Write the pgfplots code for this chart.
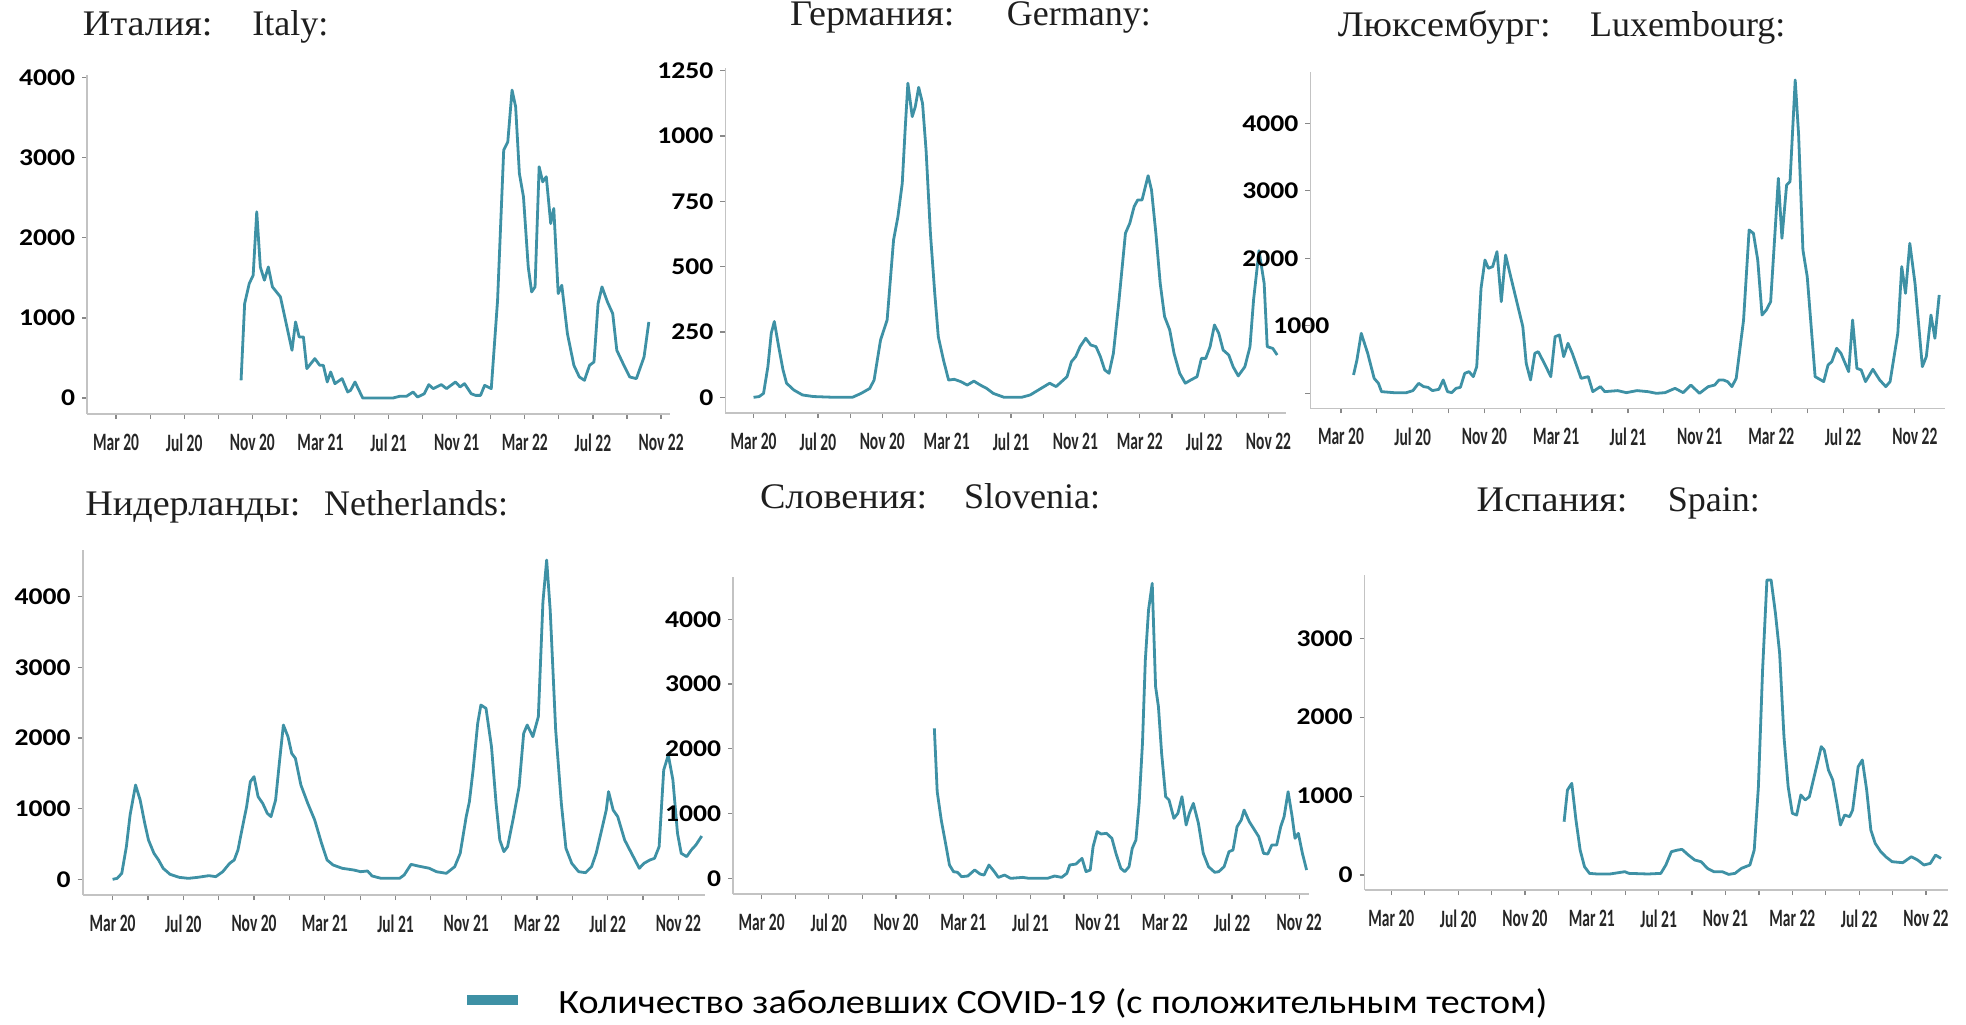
\documentclass[border=0pt]{standalone}
\usepackage{fontspec}
\setmainfont{Liberation Serif}
\newfontfamily\xtf[FakeStretch=0.62]{Carlito}
\newfontfamily\ytf[FakeStretch=1.15]{Carlito}
\newfontfamily\lgf[FakeStretch=1.12]{Carlito}
\newfontfamily\cyrt[FakeStretch=1.06]{Liberation Serif}
\usepackage{pgfplots}
\pgfplotsset{compat=1.18}
\definecolor{covid}{RGB}{62,145,165}
\definecolor{axgray}{RGB}{195,195,195}
\definecolor{ttl}{RGB}{30,30,30}
\pgfplotsset{cv/.style={scale only axis, axis x line=bottom, axis y line=left,
  axis line style={axgray, line width=0.8pt, -},
  tick style={axgray!70!black, line width=0.6pt}, tick align=outside,
  major tick length=2.5pt, minor tick length=2.5pt,
  xtick={0,4,...,32}, minor xtick={2,6,...,30},
  xticklabels={Mar 20,Jul 20,Nov 20,Mar 21,Jul 21,Nov 21,Mar 22,Jul 22,Nov 22},
  xticklabel style={font=\xtf\bfseries\fontsize{12.5}{14}\selectfont, text=black!85, yshift=-4pt},
  yticklabel style={font=\ytf\bfseries\fontsize{12}{14}\selectfont},
  scaled y ticks=false,
  cycle list={covid\\},
  every axis plot/.append style={line width=1.4pt, mark=none, line join=round}}}
\newcommand\ttlfont{\color{ttl}\fontsize{18}{20}\selectfont}
\begin{document}
\begin{tikzpicture}
\useasboundingbox (0,0) rectangle (983pt,-512pt);
% Italy
\begin{axis}[cv, at={(43.55pt,-207pt)}, anchor=south west, width=291.25pt, height=169.5pt,
  xmin=-1.70, xmax=32.5, ymin=-200, ymax=4034,
  ytick={0,1000,2000,3000,4000}, yticklabels={0,1000,2000,3000,4000}]
\addplot coordinates {(7.34,221)(7.55,1179)(7.82,1429)(8.05,1533)(8.26,2325)(8.47,1637)(8.71,1471)(8.94,1637)(9.18,1388)(9.65,1263)(10.33,596)(10.54,950)(10.75,763)(11.0,763)(11.2,367)(11.67,492)(11.96,408)(12.17,408)(12.4,200)(12.6,325)(12.85,179)(13.27,242)(13.6,75)(13.77,96)(14.03,200)(14.48,0)(14.95,0)(15.7,0)(16.26,0)(16.65,21)(17.05,21)(17.44,75)(17.7,12)(18.1,54)(18.36,167)(18.62,117)(19.1,167)(19.4,117)(19.93,200)(20.2,138)(20.46,179)(20.85,54)(21.1,33)(21.4,33)(21.64,158)(22.03,117)(22.4,1221)(22.76,3096)(23.0,3200)(23.25,3846)(23.46,3638)(23.68,2804)(23.92,2513)(24.2,1637)(24.4,1325)(24.6,1388)(24.84,2888)(25.05,2700)(25.26,2763)(25.52,2179)(25.7,2367)(25.96,1304)(26.17,1408)(26.5,804)(26.88,408)(27.2,263)(27.5,221)(27.8,408)(28.06,450)(28.3,1179)(28.53,1388)(28.85,1200)(29.16,1054)(29.4,596)(29.77,429)(30.16,263)(30.55,242)(31.0,513)(31.28,950)};
\end{axis}
% Germany
\begin{axis}[cv, at={(362.7pt,-206.5pt)}, anchor=south west, width=280.4pt, height=172.5pt,
  xmin=-1.75, xmax=33.1, ymin=-60, ymax=1260,
  ytick={0,250,500,750,1000,1250}, yticklabels={0,250,500,750,1000,1250}]
\addplot coordinates {(0,0)(0.35,3)(0.62,15)(0.89,117)(1.1,245)(1.29,290)(1.56,194)(1.83,105)(2.05,54)(2.5,28)(3.04,9)(3.72,3)(5.06,0)(6.14,0)(6.68,15)(7.22,34)(7.49,66)(7.89,219)(8.3,296)(8.7,602)(8.97,691)(9.24,819)(9.43,1036)(9.59,1202)(9.86,1074)(10.05,1112)(10.26,1186)(10.5,1125)(10.72,946)(10.99,628)(11.26,398)(11.48,232)(11.8,143)(12.12,66)(12.47,69)(12.88,60)(13.28,47)(13.69,62)(14.09,47)(14.49,34)(14.9,15)(15.57,0)(16.65,0)(17.19,9)(17.86,34)(18.4,54)(18.8,41)(19.48,79)(19.75,136)(20.02,156)(20.29,194)(20.64,226)(20.96,200)(21.28,194)(21.55,156)(21.82,105)(22.09,92)(22.36,168)(22.71,372)(23.11,628)(23.38,666)(23.65,730)(23.87,755)(24.14,755)(24.52,848)(24.73,793)(25.0,628)(25.27,436)(25.54,309)(25.86,258)(26.13,168)(26.48,92)(26.83,54)(27.16,66)(27.56,79)(27.83,149)(28.1,149)(28.37,194)(28.64,277)(28.91,245)(29.18,181)(29.53,162)(29.8,117)(30.12,82)(30.53,117)(30.85,194)(31.07,372)(31.41,561)(31.73,436)(31.92,194)(32.27,187)(32.54,162)};
\end{axis}
% Luxembourg
\begin{axis}[cv, at={(655.15pt,-204.15pt)}, anchor=south west, width=317.5pt, height=168.3pt,
  xmin=-1.71, xmax=33.7, ymin=-222, ymax=4764,
  ytick={0,2000,3000,4000}, yticklabels={,2000,3000,4000},
  extra y ticks={1000}, extra y tick labels={1000},
  extra y tick style={yticklabel style={xshift=15.5pt}}]
\addplot coordinates {(0.7,272)(0.89,494)(1.13,889)(1.49,593)(1.85,222)(2.09,148)(2.26,25)(2.93,10)(3.65,10)(4.01,40)(4.33,148)(4.61,99)(4.85,89)(5.1,40)(5.46,59)(5.7,198)(5.94,25)(6.18,10)(6.42,74)(6.66,89)(6.9,296)(7.14,321)(7.38,247)(7.57,395)(7.81,1556)(8.03,1975)(8.22,1852)(8.46,1877)(8.7,2099)(8.94,1358)(9.18,2049)(9.42,1778)(9.78,1383)(10.14,988)(10.33,444)(10.57,198)(10.81,593)(11.0,617)(11.34,444)(11.7,247)(11.94,840)(12.18,864)(12.42,543)(12.66,741)(12.9,593)(13.39,222)(13.79,247)(14.04,25)(14.47,99)(14.71,25)(15.43,40)(15.91,10)(16.51,40)(17.11,25)(17.59,0)(18.07,10)(18.63,74)(19.08,10)(19.51,123)(19.99,0)(20.48,99)(20.84,123)(21.08,198)(21.32,198)(21.56,173)(21.8,99)(22.04,222)(22.45,1086)(22.76,2420)(23.0,2370)(23.24,1975)(23.48,1160)(23.72,1235)(23.96,1358)(24.2,2370)(24.39,3185)(24.59,2296)(24.85,3086)(25.04,3136)(25.33,4642)(25.52,3827)(25.76,2123)(26.0,1728)(26.44,247)(26.92,173)(27.16,420)(27.37,469)(27.64,667)(27.88,593)(28.31,321)(28.53,1086)(28.77,370)(29.01,346)(29.25,173)(29.66,356)(30.04,198)(30.38,99)(30.62,173)(31.05,889)(31.27,1877)(31.48,1481)(31.72,2222)(32.01,1630)(32.42,395)(32.64,543)(32.9,1160)(33.12,815)(33.36,1457)};
\end{axis}
% Netherlands
\begin{axis}[cv, at={(41.35pt,-447.5pt)}, anchor=south west, width=311.1pt, height=172.5pt,
  xmin=-1.69, xmax=33.5, ymin=-222, ymax=4661,
  ytick={0,1000,2000,3000,4000}, yticklabels={0,1000,2000,3000,4000}]
\addplot coordinates {(0,0)(0.26,14)(0.52,85)(0.78,462)(0.99,910)(1.3,1335)(1.56,1123)(1.82,792)(2.03,557)(2.34,368)(2.6,274)(2.86,156)(3.25,71)(3.77,28)(4.29,14)(4.81,28)(5.45,52)(5.84,38)(6.23,108)(6.62,226)(6.88,274)(7.09,415)(7.35,745)(7.58,1028)(7.79,1382)(8.0,1453)(8.23,1170)(8.49,1075)(8.75,934)(8.96,887)(9.22,1123)(9.43,1642)(9.66,2184)(9.92,2019)(10.13,1783)(10.34,1712)(10.65,1335)(11.04,1075)(11.43,840)(11.82,509)(12.13,274)(12.47,203)(12.99,156)(13.64,132)(14.03,108)(14.42,118)(14.68,47)(15.19,14)(16.23,14)(16.49,61)(16.88,212)(17.27,189)(17.92,156)(18.31,108)(18.88,85)(19.35,179)(19.66,368)(20.0,887)(20.18,1099)(20.39,1547)(20.65,2208)(20.83,2467)(21.12,2420)(21.43,1877)(21.69,1075)(21.9,557)(22.13,392)(22.34,462)(22.68,887)(22.99,1311)(23.25,2066)(23.45,2184)(23.77,2019)(24.08,2302)(24.34,3929)(24.55,4519)(24.75,3811)(25.06,2113)(25.38,1075)(25.64,439)(25.97,226)(26.36,108)(26.75,94)(27.09,179)(27.35,368)(27.66,698)(27.92,981)(28.05,1241)(28.31,981)(28.57,887)(28.96,557)(29.35,368)(29.79,156)(30.05,226)(30.39,274)(30.65,297)(30.91,462)(31.17,1547)(31.43,1759)(31.69,1406)(31.95,651)(32.16,368)(32.47,321)(32.73,415)(32.99,486)(33.32,613)};
\end{axis}
% Slovenia
\begin{axis}[cv, at={(366.55pt,-447pt)}, anchor=south west, width=287.75pt, height=158.65pt,
  xmin=-1.70, xmax=32.56, ymin=-242, ymax=4658,
  ytick={0,1000,2000,3000,4000}, yticklabels={0,1000,2000,3000,4000}]
\addplot coordinates {(10.28,2317)(10.45,1338)(10.69,901)(10.93,566)(11.18,206)(11.42,103)(11.66,93)(11.9,26)(12.27,36)(12.68,129)(13.0,67)(13.24,51)(13.53,206)(13.85,103)(14.09,15)(14.46,51)(14.82,0)(15.55,15)(15.91,0)(17.01,0)(17.44,36)(17.86,15)(18.17,77)(18.34,206)(18.71,221)(19.07,309)(19.31,103)(19.56,129)(19.73,489)(19.97,721)(20.21,685)(20.53,695)(20.85,618)(21.09,386)(21.38,154)(21.62,103)(21.87,180)(22.06,463)(22.28,592)(22.47,1158)(22.67,2085)(22.84,3372)(23.03,4144)(23.25,4556)(23.45,2960)(23.62,2651)(23.81,1931)(24.05,1261)(24.25,1210)(24.54,927)(24.78,1004)(25.02,1261)(25.27,824)(25.46,1004)(25.7,1158)(26.0,849)(26.29,386)(26.6,180)(26.97,93)(27.21,103)(27.53,180)(27.82,412)(28.06,438)(28.3,798)(28.55,901)(28.72,1055)(29.03,875)(29.28,772)(29.59,644)(29.88,386)(30.13,376)(30.37,515)(30.66,515)(30.9,798)(31.1,952)(31.34,1338)(31.58,952)(31.75,618)(31.95,695)(32.19,386)(32.44,129)};
\end{axis}
% Spain
\begin{axis}[cv, at={(682.3pt,-445pt)}, anchor=south west, width=291.55pt, height=157.5pt,
  xmin=-1.6, xmax=33.3, ymin=-190, ymax=3802,
  ytick={0,1000,2000,3000}, yticklabels={0,1000,2000,3000}]
\addplot coordinates {(10.34,676)(10.54,1077)(10.8,1162)(11.05,697)(11.3,317)(11.56,106)(11.86,21)(12.32,13)(13.08,13)(13.97,42)(14.22,21)(15.37,13)(16.13,21)(16.43,127)(16.76,296)(17.15,317)(17.4,325)(17.78,253)(18.16,190)(18.54,169)(18.92,84)(19.3,42)(19.81,42)(20.19,8)(20.57,21)(20.95,84)(21.21,106)(21.46,127)(21.72,317)(21.97,1120)(22.22,2598)(22.48,3739)(22.73,3739)(22.99,3316)(23.24,2810)(23.5,1753)(23.75,1120)(24.0,782)(24.26,760)(24.51,1014)(24.77,951)(25.02,993)(25.4,1331)(25.73,1627)(25.91,1584)(26.16,1331)(26.42,1204)(26.67,908)(26.88,634)(27.13,760)(27.43,739)(27.61,824)(27.94,1373)(28.19,1458)(28.45,1077)(28.7,570)(28.96,401)(29.29,296)(29.59,232)(29.97,169)(30.61,156)(31.12,232)(31.5,190)(31.88,127)(32.26,148)(32.57,253)(32.9,211)};
\end{axis}
% titles
\node[anchor=base west, inner sep=0, font=\ttlfont\cyrt] at (41.3pt,-17.5pt) {Италия:};
\node[anchor=base west, inner sep=0, font=\ttlfont] at (126pt,-17.5pt) {Italy:};
\node[anchor=base west, inner sep=0, font=\ttlfont\cyrt] at (394.8pt,-12.5pt) {Германия:};
\node[anchor=base west, inner sep=0, font=\ttlfont] at (503.25pt,-12.5pt) {Germany:};
\node[anchor=base west, inner sep=0, font=\ttlfont\cyrt] at (668.7pt,-18.35pt) {Люксембург:};
\node[anchor=base west, inner sep=0, font=\ttlfont] at (794.8pt,-18.35pt) {Luxembourg:};
\node[anchor=base west, inner sep=0, font=\ttlfont\cyrt] at (42.5pt,-257.5pt) {Нидерланды:};
\node[anchor=base west, inner sep=0, font=\ttlfont] at (161.85pt,-257.5pt) {Netherlands:};
\node[anchor=base west, inner sep=0, font=\ttlfont\cyrt] at (379.8pt,-254.15pt) {Словения:};
\node[anchor=base west, inner sep=0, font=\ttlfont] at (481.85pt,-254.15pt) {Slovenia:};
\node[anchor=base west, inner sep=0, font=\ttlfont\cyrt] at (738.15pt,-255.85pt) {Испания:};
\node[anchor=base west, inner sep=0, font=\ttlfont] at (833.7pt,-255.85pt) {Spain:};
% legend
\draw[covid, line width=5pt] (233.5pt,-500pt) -- (259pt,-500pt);
\node[anchor=west, inner sep=0, font=\lgf\fontsize{17}{20}\selectfont] at (279pt,-501.5pt) {Количество заболевших COVID-19 (с положительным тестом)};
\end{tikzpicture}
\end{document}
